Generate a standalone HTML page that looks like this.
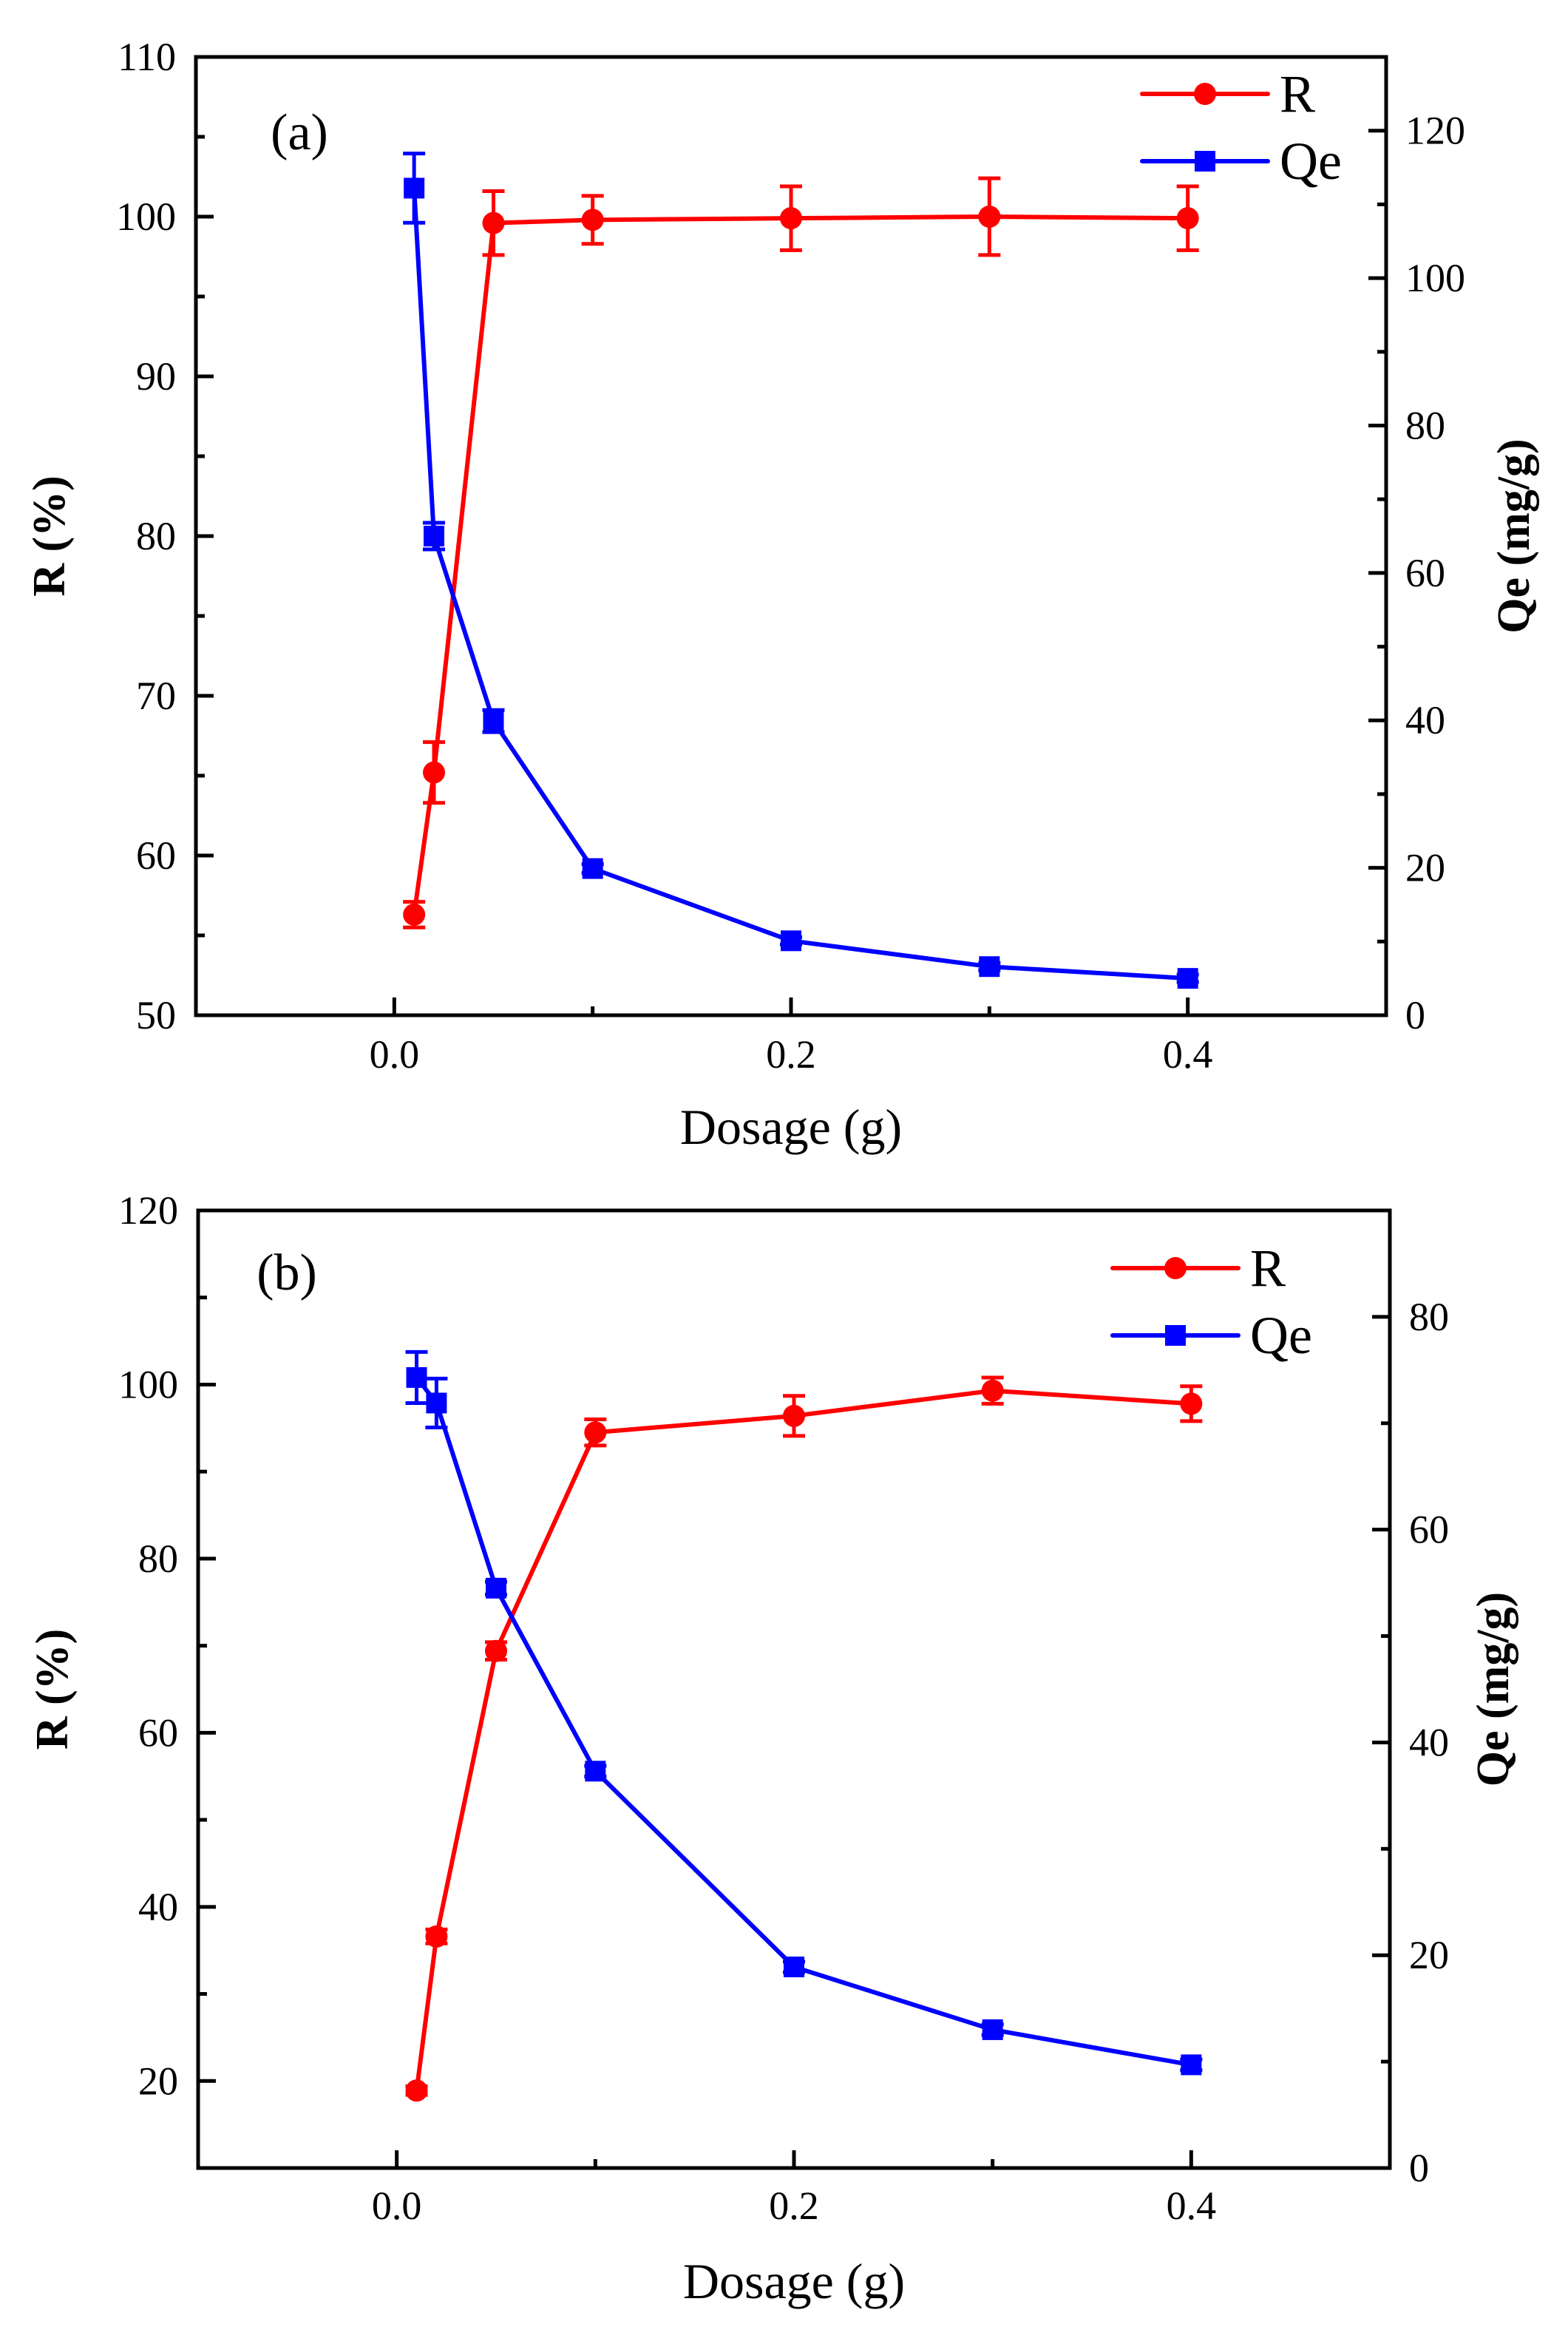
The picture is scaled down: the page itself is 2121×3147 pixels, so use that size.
<!DOCTYPE html>
<html><head><meta charset="utf-8">
<style>
html,body{margin:0;padding:0;background:#fff;}
svg{display:block;font-family:"Liberation Serif","Times New Roman",serif;}
</style></head>
<body>
<svg id="fig" width="2121" height="3147" viewBox="0 0 2121 3147" xmlns="http://www.w3.org/2000/svg">
<rect width="2121" height="3147" fill="#fff"/>
</svg>
<script>
const dosage = [0.01, 0.02, 0.05, 0.1, 0.2, 0.3, 0.4];
const aR = [56.3, 65.2, 99.6, 99.8, 99.9, 100.0, 99.9];
const aRErr = [0.8, 1.9, 2.0, 1.5, 2.0, 2.4, 2.0];
const aQe = [112.2, 65.0, 39.9, 19.9, 10.1, 6.6, 5.0];
const aQeErr = [4.7, 1.8, 1.5, 0.6, 0.5, 0.5, 0.5];
const bR = [18.9, 36.6, 69.4, 94.5, 96.4, 99.3, 97.8];
const bRErr = [0.5, 0.8, 1.0, 1.5, 2.3, 1.5, 2.0];
const bQe = [74.3, 71.9, 54.5, 37.3, 18.9, 13.0, 9.7];
const bQeErr = [2.4, 2.3, 0.6, 0.5, 0.5, 0.5, 0.5];
const xTickLabels = ["0.0", "0.2", "0.4"];
const aLeftTicks = [50, 60, 70, 80, 90, 100, 110];
const aRightTicks = [0, 20, 40, 60, 80, 100, 120];
const bLeftTicks = [20, 40, 60, 80, 100, 120];
const bRightTicks = [0, 20, 40, 60, 80];

const NS = "http://www.w3.org/2000/svg";
const svg = document.getElementById("fig");
function mk(tag, attrs, parent, text) {
  const e = document.createElementNS(NS, tag);
  for (const k in attrs) e.setAttribute(k, attrs[k]);
  if (text !== undefined) e.textContent = text;
  (parent || svg).appendChild(e);
  return e;
}

function panel(cfg) {
  const g = mk("g", {});
  
  
  const L = cfg.left, Rt = cfg.right, T = cfg.top, B = cfg.bottom;
  const xs = v => L + (v - (-0.1)) / 0.6 * (Rt - L);
  const yl = v => B - (v - cfg.lmin) / (cfg.lmax - cfg.lmin) * (B - T);
  const yr = v => B - (v - cfg.rmin) / (cfg.rmax - cfg.rmin) * (B - T);

  for (let i = 0; i <= 5; i++) {
    const v = i * 0.1;
    const x = xs(v);
    const len = i % 2 === 0 ? 24 : 12;
    const t = mk("line", {x1: x, x2: x, y1: B, y2: B - len, stroke: "#000", "stroke-width": 5}, g);
    
    
  }
  xTickLabels.forEach(s => {
    const v = parseFloat(s);
    const t = mk("text", {x: xs(v), y: B + cfg.xLabOff, "font-size": 54, "text-anchor": "middle"}, g, s);
    
    
  });
  for (let v = cfg.lmin; v <= cfg.lmax + 0.001; v += cfg.lstep / 2) {
    const major = Math.abs((v / cfg.lstep) - Math.round(v / cfg.lstep)) < 1e-6;
    const y = yl(v);
    const t = mk("line", {x1: L, x2: L + (major ? 24 : 12), y1: y, y2: y, stroke: "#000", "stroke-width": 5}, g);
    
    
  }
  cfg.lticks.forEach(v => {
    const t = mk("text", {x: L - 27, y: yl(v) + 18, "font-size": 54, "text-anchor": "end"}, g, String(v));
    
    
  });
  for (let v = cfg.rmin; v <= cfg.rmax + 0.001; v += 10) {
    const major = v % 20 === 0;
    const y = yr(v);
    const t = mk("line", {x1: Rt, x2: Rt - (major ? 24 : 12), y1: y, y2: y, stroke: "#000", "stroke-width": 5}, g);
    
    
  }
  cfg.rticks.forEach(v => {
    const t = mk("text", {x: Rt + 26, y: yr(v) + 18, "font-size": 54, "text-anchor": "start"}, g, String(v));
    
    
  });
  const fr = mk("rect", {x: L, y: T, width: Rt - L, height: B - T, fill: "none", stroke: "#000", "stroke-width": 5}, g);
  
  

  function series(vals, errs, yf, color, marker, name) {
    const sg = mk("g", {}, g);
    
    
    const pts = dosage.map((d, i) => xs(d) + "," + yf(vals[i])).join(" ");
    const pl = mk("polyline", {points: pts, fill: "none", stroke: color, "stroke-width": 6, "stroke-linejoin": "round"}, sg);
    
    
    dosage.forEach((d, i) => {
      const x = xs(d), y = yf(vals[i]);
      const y1 = yf(vals[i] + errs[i]), y2 = yf(vals[i] - errs[i]);
      const eb = mk("path", {d: `M${x},${y1}V${y2}M${x - 15},${y1}H${x + 15}M${x - 15},${y2}H${x + 15}`, stroke: color, "stroke-width": 5, fill: "none"}, sg);
      
      
      let m;
      if (marker === "circle") m = mk("circle", {cx: x, cy: y, r: 15, fill: color}, sg);
      else m = mk("rect", {x: x - 14, y: y - 14, width: 28, height: 28, fill: color}, sg);
      
      
    });
  }
  series(cfg.R, cfg.RErr, yl, "#ff0000", "circle", "r-series");
  series(cfg.Q, cfg.QErr, yr, "#0000ff", "square", "qe-series");

  const lg = mk("g", {}, g);
  
  
  [["R", "#ff0000", "circle", cfg.legY], ["Qe", "#0000ff", "square", cfg.legY + 91]].forEach(e => {
    const eg = mk("g", {}, lg);
    
    
    mk("line", {x1: cfg.legX, x2: cfg.legX + 170, y1: e[3], y2: e[3], stroke: e[1], "stroke-width": 6, "stroke-linecap": "round"}, eg);
    const cx = cfg.legX + 85;
    if (e[2] === "circle") mk("circle", {cx: cx, cy: e[3], r: 15, fill: e[1]}, eg);
    else mk("rect", {x: cx - 14, y: e[3] - 14, width: 28, height: 28, fill: e[1]}, eg);
    mk("text", {x: cfg.legX + 186, y: e[3] + 24, "font-size": 72}, eg, e[0]);
  });
  const pl = mk("text", {x: cfg.labX, y: cfg.labY + 24, "font-size": 70, "text-anchor": "middle"}, g, cfg.label);
  
  

  const xt = mk("text", {x: (L + Rt) / 2, y: cfg.xTitleY + 22, "font-size": 68, "text-anchor": "middle"}, g, "Dosage (g)");
  
  
  const ylT = mk("text", {x: 0, y: 0, "font-size": 62, "font-weight": "bold", "text-anchor": "middle", transform: `translate(${cfg.ylX},${(T + B) / 2}) rotate(-90)`}, g, "R (%)");
  
  
  const yrT = mk("text", {x: 0, y: 0, "font-size": 62, "font-weight": "bold", "text-anchor": "middle", transform: `translate(${cfg.yrX},${(T + B) / 2}) rotate(-90)`}, g, "Qe (mg/g)");
  
  
}

panel({name: "panel-a", left: 265, right: 1875, top: 77, bottom: 1373,
  lmin: 50, lmax: 110, lstep: 10, rmin: 0, rmax: 130,
  lticks: aLeftTicks, rticks: aRightTicks,
  R: aR, RErr: aRErr, Q: aQe, QErr: aQeErr,
  legX: 1545, legY: 127, labX: 405, labY: 178, label: "(a)",
  xTitleY: 1525, xLabOff: 71, ylX: 87, yrX: 2068});
panel({name: "panel-b", left: 268, right: 1880, top: 1637, bottom: 2932,
  lmin: 10, lmax: 120, lstep: 20, rmin: 0, rmax: 90,
  lticks: bLeftTicks, rticks: bRightTicks,
  R: bR, RErr: bRErr, Q: bQe, QErr: bQeErr,
  legX: 1505, legY: 1715, labX: 388, labY: 1720, label: "(b)",
  xTitleY: 3086, xLabOff: 69, ylX: 91, yrX: 2040});
</script>
</body></html>
